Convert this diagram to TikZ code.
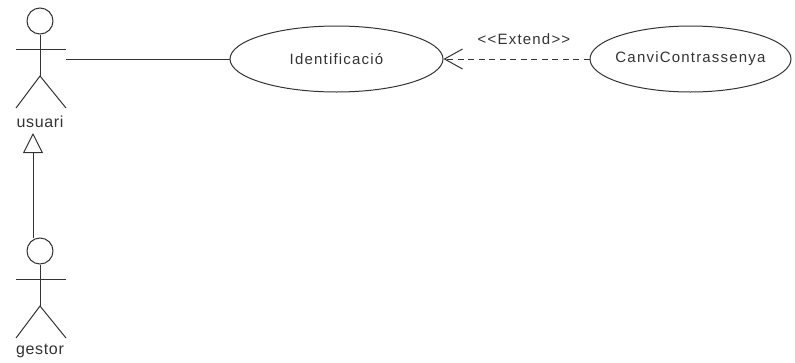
\documentclass[tikz,border=0pt]{standalone}
\usepackage{fontspec}
\usepackage{tikz}
\usepackage{xcolor}
\usetikzlibrary{arrows.meta,shapes.geometric}
\setmainfont{Liberation Sans}
\newfontfamily\spacedfont[LetterSpace=8]{Liberation Sans}
\newfontfamily\namefont[LetterSpace=4]{Liberation Sans}
\definecolor{linegray}{HTML}{333333}
\begin{document}
\begin{tikzpicture}[x=1pt, y=-1pt, line width=1pt, draw=linegray, text=linegray,
  head/.style = {draw, circle, minimum size=26pt, inner sep=0pt},
  usecase/.style = {draw, ellipse, minimum height=66pt},
  caselabel/.style = {font=\spacedfont\fontsize{15pt}{17pt}\selectfont, text=linegray},
  actorname/.style = {font=\namefont\fontsize{16pt}{18pt}\selectfont, inner sep=0pt},
  stereo/.style = {font=\spacedfont\fontsize{15pt}{17pt}\selectfont, inner sep=0pt}]
\useasboundingbox (0,0) rectangle (795,362);
\node[head] (1) at (40,21) {};
\node[head] (2) at (40,251) {};
\node[actorname] (usuari) at (40,122) {usuari};
\node[actorname] (gestor) at (40,351) {gestor};
\node[usecase, minimum width=213pt, label={[caselabel]center:Identificació}] (3) at (336.5,59) {};
\node[usecase, minimum width=201pt, label={[caselabel]center:CanviContrassenya}] (4) at (690.5,59) {};
\node[stereo] (extend) at (524,39) {<{}<Extend>{}>};
% usuari figure
\coordinate (n1) at (40,76);
\coordinate (h1) at (66,59);
\draw (1) -- (n1);
\draw (16,49) -- (66,49);
\draw (16,108) -- (n1) -- (66,108);
% gestor figure
\coordinate (n2) at (40,306);
\draw (2) -- (n2);
\draw (16,279) -- (66,279);
\draw (16,338) -- (n2) -- (66,338);
% links
\coordinate (g1) at (33,238);
\coordinate (g2) at (33,133);
\draw (h1) -- (3);
\draw[-{Triangle[open,length=20pt,width=20pt,line width=1pt]}] (g1) -- (g2);
\draw[dashed, dash pattern=on 6pt off 4.5pt, -{Straight Barb[length=18pt,width=20pt,line width=1pt]}] (4) -- (3);
\end{tikzpicture}
\end{document}
